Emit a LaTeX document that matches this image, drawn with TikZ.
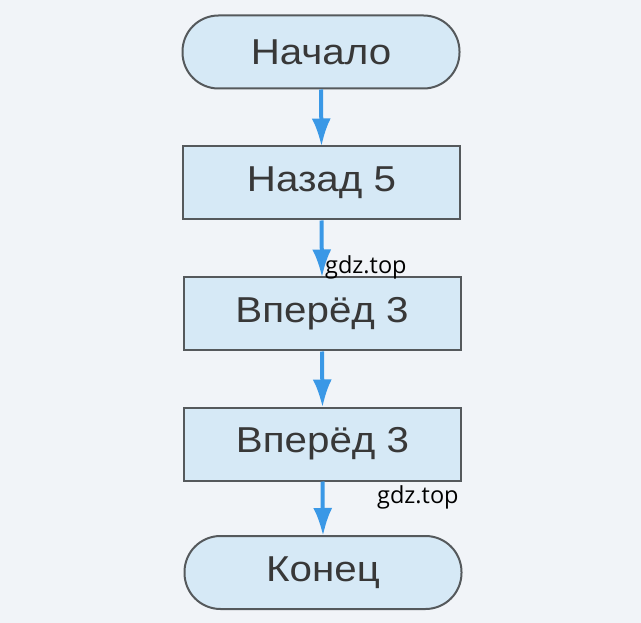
\documentclass[tikz,border=0pt]{standalone}
\usepackage{fontspec}
\setmainfont{Liberation Sans}[FakeStretch=1.12]
\newfontfamily\wmfont{Open Sans}
\usetikzlibrary{arrows.meta}
\definecolor{bgc}{HTML}{F1F4F8}
\definecolor{boxfill}{HTML}{D6E9F6}
\definecolor{boxline}{HTML}{55595C}
\definecolor{txt}{HTML}{383838}
\definecolor{arr}{HTML}{3A98E6}
\tikzset{
  blockbox/.style={draw=boxline, line width=2pt, fill=boxfill, minimum width=277pt, minimum height=73pt, inner sep=0pt, text=txt, font=\fontsize{36}{38}\selectfont},
  termbox/.style={blockbox, rounded corners=36pt},
  flowarrow/.style={draw=arr, line width=4pt, -{Latex[length=28pt,width=19pt]}, shorten >=-1pt},
  wm/.style={font=\wmfont\fontsize{23.5}{25}\selectfont, text=black, inner sep=0pt}
}
\begin{document}
\begin{tikzpicture}[x=1pt,y=-1pt]
\fill[bgc] (0,0) rectangle (641,623);
\useasboundingbox (0,0) rectangle (641,623);
\node[termbox] (start) at (321,52) {Начало};
\node[blockbox] (b1) at (321.5,183) {Назад 5};
\node[blockbox] (b2) at (322,314) {Вперёд 3};
\node[blockbox] (b3) at (322.5,444) {Вперёд 3};
\node[termbox] (end) at (323,572.5) {Конец};
\draw[flowarrow] (start.south) -- (b1.north);
\draw[flowarrow] (b1.south) -- (b2.north);
\draw[flowarrow] (b2.south) -- (b3.north);
\draw[flowarrow] (b3.south) -- (end.north);
\node[wm, anchor=base west] (w1) at (325,274) {gdz.top};
\node[wm, anchor=base west] (w2) at (377,503) {gdz.top};
\end{tikzpicture}
\end{document}
